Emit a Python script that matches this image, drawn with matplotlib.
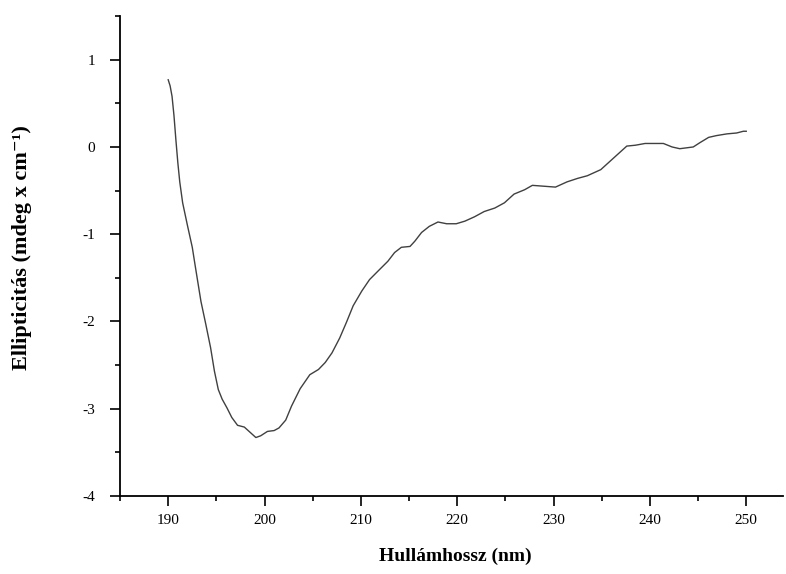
import matplotlib
matplotlib.use("Agg")
import matplotlib.pyplot as plt
from matplotlib.ticker import MultipleLocator

plt.rcParams['font.family'] = ['Liberation Serif', 'DejaVu Serif']
plt.rcParams['axes.unicode_minus'] = False

# CD spektrum (kiolvasott pontok)
wavelength = [
    190.0, 190.2, 190.4, 190.6, 190.8, 191.0, 191.2, 191.5, 192.0, 192.5,
    192.8, 193.4, 193.9, 194.4, 194.8, 195.2, 195.6, 196.1, 196.6, 197.2,
    197.9, 198.4, 199.1, 199.6, 200.3, 201.0, 201.5, 202.2, 202.8, 203.7,
    204.7, 205.6, 206.3, 207.0, 207.8, 208.5, 209.2, 210.1, 210.9, 211.8,
    212.8, 213.5, 214.2, 215.1, 215.6, 216.3, 217.1, 218.0, 218.9, 219.9,
    220.8, 221.8, 222.8, 223.9, 224.9, 225.9, 227.0, 227.8, 229.0, 230.2,
    231.4, 232.5, 233.5, 234.9, 236.3, 237.6, 238.5, 239.5, 240.7, 241.4,
    242.3, 243.1, 244.5, 245.2, 246.1, 246.9, 248.0, 249.0, 249.7, 250.0,
]
ellipticity = [
    0.77, 0.70, 0.58, 0.36, 0.08, -0.18, -0.40, -0.64, -0.90, -1.15,
    -1.36, -1.77, -2.03, -2.30, -2.57, -2.78, -2.89, -2.99, -3.10, -3.19,
    -3.21, -3.26, -3.33, -3.31, -3.26, -3.25, -3.22, -3.13, -2.97, -2.77,
    -2.61, -2.55, -2.47, -2.36, -2.19, -2.01, -1.82, -1.65, -1.52, -1.42,
    -1.31, -1.21, -1.15, -1.14, -1.08, -0.98, -0.91, -0.86, -0.88, -0.88,
    -0.85, -0.80, -0.74, -0.70, -0.64, -0.54, -0.49, -0.44, -0.45, -0.46,
    -0.40, -0.36, -0.33, -0.26, -0.12, 0.01, 0.02, 0.04, 0.04, 0.04,
    0.00, -0.02, 0.00, 0.05, 0.11, 0.13, 0.15, 0.16, 0.18, 0.18,
]

fig = plt.figure(figsize=(7.86, 5.74), dpi=100)
ax = fig.add_axes([0.1527, 0.1359, 0.8433, 0.8361])

ax.plot(wavelength, ellipticity, color='#404040', linewidth=1.0)

ax.set_xlim(185, 253.8)
ax.set_ylim(-4, 1.5)

ax.spines['top'].set_visible(False)
ax.spines['right'].set_visible(False)
ax.spines['left'].set_linewidth(1.3)
ax.spines['bottom'].set_linewidth(1.3)

ax.xaxis.set_minor_locator(MultipleLocator(5))
ax.yaxis.set_minor_locator(MultipleLocator(0.5))
ax.set_xticks(range(190, 251, 10))
ax.set_yticks(range(-4, 2))

ax.tick_params(which='major', direction='out', length=7, width=1.2, labelsize=11)
ax.tick_params(which='minor', direction='out', length=3.6, width=1.2)
ax.tick_params(axis='x', pad=6)
ax.tick_params(axis='y', pad=11)

fig.text(455 / 786, 1 - 556 / 574, 'Hullámhossz (nm)', fontsize=14,
         fontweight='bold', ha='center', va='center')
fig.text(22 / 786, 1 - 248 / 574, 'Ellipticitás (mdeg x cm⁻¹)', fontsize=16,
         fontweight='bold', ha='center', va='center', rotation=90)

fig.savefig('out.png', dpi=100)
